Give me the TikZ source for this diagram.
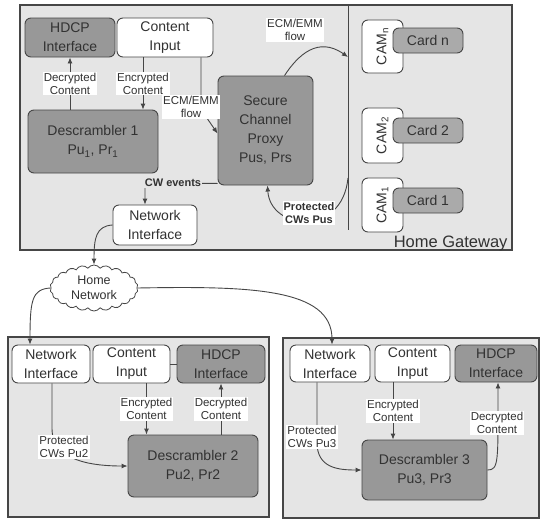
\documentclass[tikz,border=0pt]{standalone}
\usepackage{fontspec}
\setmainfont{Liberation Sans}
\usetikzlibrary{shapes.symbols,arrows.meta}
\definecolor{bgc}{RGB}{229,229,229}
\definecolor{dk}{RGB}{152,152,152}
\definecolor{cardc}{RGB}{170,170,170}
\definecolor{ln}{RGB}{70,70,70}
\definecolor{tx}{RGB}{50,50,50}
\begin{document}
\begin{tikzpicture}[x=1pt,y=-1pt,
  box/.style={draw=ln, line width=0.9pt, rounded corners=6pt, align=center, inner sep=0pt, text=tx, font=\fontsize{14}{19}\selectfont},
  wbox/.style={box, fill=white},
  gbox/.style={box, fill=dk},
  cbox/.style={box, fill=cardc},
  frame/.style={draw=ln, line width=1.1pt, fill=bgc, inner sep=0pt},
  lbl/.style={fill=white, inner sep=1pt, align=center, text=tx, font=\fontsize{11.5}{13}\selectfont},
  blbl/.style={lbl, font=\bfseries\fontsize{11}{13}\selectfont},
  arr/.style={draw=ln, line width=0.9pt, -{Latex[length=6pt,width=5pt]}},
  con/.style={draw=ln, line width=0.9pt},
]
\useasboundingbox[fill=white] (0,0) rectangle (541,520);

% ---------- Home Gateway ----------
\node[frame, minimum width=492pt, minimum height=245pt] (gw) at (266,127.5) {};
\coordinate (dvtop) at (348,5);
\coordinate (dvbot) at (348,230);
\draw[con] (dvtop) -- (dvbot);
\coordinate (dvA) at (348,57);
\coordinate (dvB) at (348,178);

\node[gbox, minimum width=90pt, minimum height=39pt] (hdcp1) at (70,37.5) {HDCP\\Interface};
\node[wbox, minimum width=96pt, minimum height=39pt] (ci1) at (165,37.5) {Content\\Input};
\node[gbox, minimum width=130pt, minimum height=63pt] (d1) at (93,141.5) {Descrambler 1\\Pu\textsubscript{1}, Pr\textsubscript{1}};
\node[gbox, minimum width=95pt, minimum height=109pt] (scp) at (265.5,130.5) {Secure\\Channel\\Proxy\\Pus, Prs};
\node[wbox, minimum width=84pt, minimum height=40pt] (ni1) at (155,225) {Network\\Interface};

\node[wbox, minimum width=41pt, minimum height=53pt] (camn) at (382.5,46.5) {};
\node[rotate=90, text=tx, font=\fontsize{14}{16}\selectfont] at (camn.center) {CAM\textsubscript{n}};
\node[cbox, minimum width=70pt, minimum height=25pt] (cardn) at (428,40.5) {Card n};
\node[wbox, minimum width=41pt, minimum height=55pt] (cam2) at (382.5,135.5) {};
\node[rotate=90, text=tx, font=\fontsize{14}{16}\selectfont] at (cam2.center) {CAM\textsubscript{2}};
\node[cbox, minimum width=70pt, minimum height=25pt] (card2) at (428,130.5) {Card 2};
\node[wbox, minimum width=41pt, minimum height=54pt] (cam1) at (382.5,205) {};
\node[rotate=90, text=tx, font=\fontsize{14}{16}\selectfont] at (cam1.center) {CAM\textsubscript{1}};
\node[cbox, minimum width=70pt, minimum height=25pt] (card1) at (428,200.5) {Card 1};

\node[anchor=base east, text=tx, font=\fontsize{16.5}{18}\selectfont] (hgw) at (511,247) {Home Gateway};

% connectors inside gateway
\draw[arr] (hdcp1.south |- d1.north) -- node[lbl] {Decrypted\\Content} (hdcp1.south);
\coordinate (e1) at ([xshift=-22pt]ci1.south);
\draw[arr] (e1) -- node[lbl] {Encrypted\\Content} (e1 |- d1.north);
\coordinate (f1) at ([xshift=36pt]ci1.south);
\draw[arr] (f1) -- ++(0,52) -- ([yshift=-3pt]scp.west);
\node[lbl] (ecm1) at (191,107) {ECM/EMM\\flow};
\node[lbl] (ecm2) at (295,30) {ECM/EMM\\flow};
\draw[arr] ([xshift=19pt]scp.north) .. controls (298,55) and (318,36) .. (dvA);
\draw[arr] (dvB) .. controls (342,238) and (270,230) .. ([xshift=2pt]scp.south);
\node[blbl] (pcw) at (309,213) {Protected\\CWs Pus};
\coordinate (cw) at (145,183);
\draw[arr] ([yshift=2pt]scp.south west) -- (cw) -- (cw |- ni1.north);
\node[blbl, fill=bgc] (cwe) at (173,183) {CW events};

% ---------- Home Network ----------
\node[cloud, draw=ln, fill=white, line width=0.8pt, cloud puffs=22, cloud puff arc=110, aspect=2,
      minimum width=88pt, minimum height=46pt, inner sep=0pt, align=center, text=tx,
      font=\fontsize{12.5}{15}\selectfont] (hn) at (94,288) {Home\\Network};
\draw[arr] (ni1.west) .. controls (96,226) and (94,238) .. (hn.north);

% ---------- Box 2 ----------
\node[frame, minimum width=261pt, minimum height=180pt] (b2) at (138.5,427) {};
\node[wbox, minimum width=78pt, minimum height=38pt] (ni2) at (51,364) {Network\\Interface};
\node[wbox, minimum width=77pt, minimum height=38pt] (ci2) at (131.5,364) {Content\\Input};
\node[gbox, minimum width=88pt, minimum height=38pt] (hdcp2) at (221,364) {HDCP\\Interface};
\node[gbox, minimum width=130pt, minimum height=62pt] (d2) at (193,466) {Descrambler 2\\Pu2, Pr2};
\draw[con] (ci2.east) -- (hdcp2.west);
\coordinate (e2) at ([xshift=15pt]ci2.south);
\draw[arr] (e2) -- node[lbl] {Encrypted\\Content} (e2 |- d2.north);
\draw[arr] (hdcp2.south |- d2.north) -- node[lbl] {Decrypted\\Content} (hdcp2.south);
\coordinate (n2) at ([xshift=1pt]ni2.south);
\draw[arr] (n2) -- ++(0,45) .. controls (52,462) and (95,466) .. (d2.west);
\node[lbl] (pc2) at (64,447) {Protected\\CWs Pu2};
\draw[arr] (hn.west) .. controls (32,289) and (30,300) .. ([xshift=-21pt]ni2.north);

% ---------- Box 3 ----------
\node[frame, minimum width=256pt, minimum height=180pt] (b3) at (411,428) {};
\node[wbox, minimum width=80pt, minimum height=37pt] (ni3) at (330,363.5) {Network\\Interface};
\node[wbox, minimum width=75pt, minimum height=37pt] (ci3) at (412.5,363.5) {Content\\Input};
\node[gbox, minimum width=82pt, minimum height=37pt] (hdcp3) at (496,363.5) {HDCP\\Interface};
\node[gbox, minimum width=125pt, minimum height=60pt] (d3) at (424.5,470) {Descrambler 3\\Pu3, Pr3};
\coordinate (e3) at ([xshift=-19.5pt]ci3.south);
\draw[arr] (e3) -- node[lbl] {Encrypted\\Content} (e3 |- d3.north);
\draw[arr] (d3.east) .. controls (499,470) and (498,462) .. ([xshift=2pt]hdcp3.south);
\node[lbl] (dc3) at (497,423) {Decrypted\\Content};
\coordinate (n3) at ([xshift=-13pt]ni3.south);
\draw[arr] (n3) -- ++(0,60) .. controls (317,468) and (338,470) .. (d3.west);
\node[lbl] (pc3) at (312,437) {Protected\\CWs Pu3};
\draw[arr] (hn.east) .. controls (250,286) and (332,288) .. ([xshift=2pt]ni3.north);
\end{tikzpicture}
\end{document}
